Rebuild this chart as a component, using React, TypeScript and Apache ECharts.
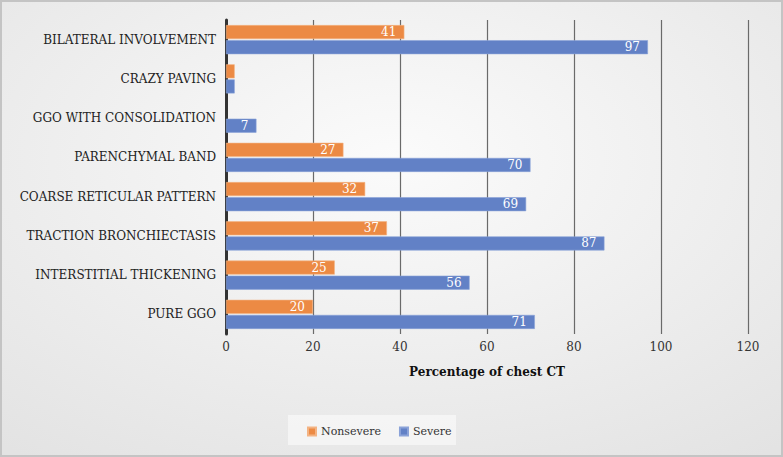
import React, { useEffect, useRef } from "react";
import * as echarts from "echarts";

const categories = [
  "PURE GGO",
  "INTERSTITIAL THICKENING",
  "TRACTION BRONCHIECTASIS",
  "COARSE RETICULAR PATTERN",
  "PARENCHYMAL BAND",
  "GGO WITH CONSOLIDATION",
  "CRAZY PAVING",
  "BILATERAL INVOLVEMENT",
];
const nonsevere = [20, 25, 37, 32, 27, 0, 2, 41];
const severe = [71, 56, 87, 69, 70, 7, 2, 97];
const xTicks = [0, 20, 40, 60, 80, 100, 120];

const FONT = "DejaVu Serif";

function toData(vals: number[]) {
  return vals.map((v) => ({
    value: v,
    label: { show: v >= 5 },
    itemStyle: v === 0 ? { borderWidth: 0 } : undefined,
  }));
}

export default function App() {
  const ref = useRef<HTMLDivElement>(null);
  useEffect(() => {
    document.body.style.margin = "0";
    const chart = echarts.init(ref.current!, undefined, { renderer: "svg" });
    const labelStyle = {
      show: true,
      position: "insideRight" as const,
      color: "#ffffff",
      fontFamily: FONT,
      fontSize: 12,
      offset: [-3, 0],
    };
    chart.setOption({
      animation: false,
      textStyle: { fontFamily: FONT },
      backgroundColor: new echarts.graphic.RadialGradient(0.5, 0.35, 0.8, [
        { offset: 0, color: "#fbfbfb" },
        { offset: 1, color: "#e3e3e3" },
      ]),
      graphic: [
        {
          type: "rect",
          shape: { x: 1, y: 1, width: 781, height: 455 },
          style: { fill: "none", stroke: "#c4c4c4", lineWidth: 2 },
          silent: true,
        },
        {
          type: "rect",
          shape: { x: 288, y: 415, width: 168, height: 30 },
          style: { fill: "rgba(255,255,255,0.5)" },
          silent: true,
          z: -1,
        },
      ],
      grid: { left: 226, right: 35, top: 20, bottom: 123 },
      legend: {
        data: ["Nonsevere", "Severe"],
        left: 302,
        top: 421,
        itemWidth: 8,
        itemHeight: 8,
        itemGap: 18,
        icon: "rect",
        textStyle: { fontFamily: FONT, fontSize: 11, color: "#333" },
      },
      xAxis: {
        type: "value",
        min: 0,
        max: 120,
        interval: 20,
        name: "Percentage of chest CT",
        nameLocation: "middle",
        nameGap: 32,
        nameTextStyle: { fontFamily: FONT, fontSize: 12, fontWeight: "bold", color: "#111" },
        axisLine: { show: false },
        axisTick: { show: false },
        axisLabel: {
          fontFamily: FONT,
          fontSize: 12,
          color: "#333",
          margin: 7,
          formatter: (v: number) => (xTicks.includes(v) ? String(v) : ""),
        },
        splitLine: { show: true, lineStyle: { color: "#6a6a6a", width: 1.2 } },
      },
      yAxis: {
        type: "category",
        data: categories,
        axisLine: { show: true, lineStyle: { color: "#333", width: 3 } },
        axisTick: { show: false },
        axisLabel: { fontFamily: FONT, fontSize: 12, color: "#222", margin: 10 },
      },
      series: [
        {
          name: "Nonsevere",
          type: "bar",
          data: toData(nonsevere),
          barWidth: 14,
          barGap: "8%",
          itemStyle: { color: "#ec8a44", borderColor: "#f3b383", borderWidth: 0.6 },
          label: labelStyle,
        },
        {
          name: "Severe",
          type: "bar",
          data: toData(severe),
          barWidth: 14,
          barGap: "8%",
          itemStyle: { color: "#6281c6", borderColor: "#8aa2d8", borderWidth: 0.6 },
          label: labelStyle,
        },
      ],
    });
    return () => chart.dispose();
  }, []);
  return <div ref={ref} style={{ width: 783, height: 457 }} />;
}
